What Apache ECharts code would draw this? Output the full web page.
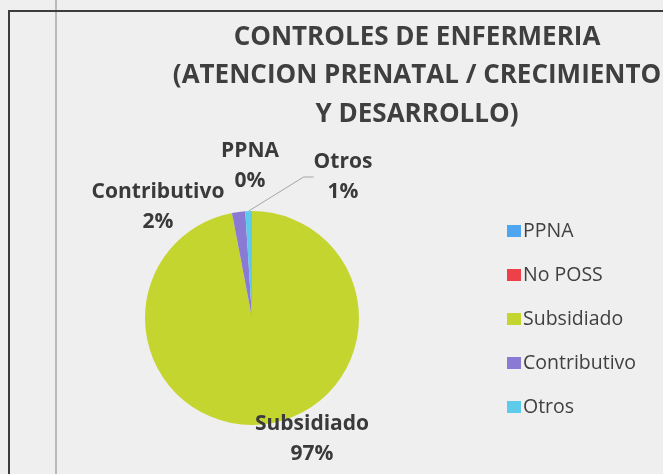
<!DOCTYPE html>
<html>
<head>
<meta charset="utf-8">
<script src="https://cdn.jsdelivr.net/npm/echarts@6/dist/echarts.min.js"></script>
<style>
  html, body { margin: 0; padding: 0; background: #efefef; }
  #chart { width: 663px; height: 474px; }
</style>
</head>
<body>
<div id="chart"></div>
<script>
// chart data
const categories = ['PPNA', 'No POSS', 'Subsidiado', 'Contributivo', 'Otros'];
const values = [0, 0, 97, 2, 1];
const colors = ['#4da6ef', '#ee4048', '#c5d52f', '#8b7ad4', '#5ecbea'];
const titleText = 'CONTROLES DE ENFERMERIA\n(ATENCION PRENATAL / CRECIMIENTO\nY DESARROLLO)';

// where Excel placed each data label (label centre), null = hidden
const labelSpots = [[250, 166], null, [312, 439], [158, 207], [343, 177]];

const chart = echarts.init(document.getElementById('chart'));

chart.setOption({
    backgroundColor: '#efefef',
    animation: false,
    title: {
        text: titleText,
        left: 412,
        top: 13,
        textAlign: 'center',
        textStyle: {
            fontFamily: 'Open Sans',
            fontSize: 26,
            fontWeight: 'bold',
            color: '#3f3f3f',
            lineHeight: 38.5
        }
    },
    legend: {
        orient: 'vertical',
        left: 502,
        top: 216,
        icon: 'rect',
        itemWidth: 14,
        itemHeight: 12,
        itemGap: 24,
        data: categories,
        textStyle: {
            fontFamily: 'Open Sans',
            fontSize: 19.5,
            color: '#404040',
            lineHeight: 18,
            padding: [0, 0, 0, -3]
        }
    },
    graphic: [
        {
            type: 'line',
            shape: { x1: 56, y1: 0, x2: 56, y2: 474 },
            style: { stroke: '#b9b9b9', lineWidth: 2 }
        },
        {
            type: 'polyline',
            shape: { points: [[9, 474], [9, 11], [663, 11]] },
            style: { stroke: '#3c3c3c', lineWidth: 2, fill: null }
        }
    ],
    series: [
        {
            type: 'pie',
            center: [252, 318],
            radius: 107,
            startAngle: 90,
            clockwise: true,
            stillShowZeroSum: true,
            data: categories.map((name, i) => ({
                name: name,
                value: values[i],
                itemStyle: { color: colors[i] },
                label: { show: labelSpots[i] !== null },
                labelLine: { show: name === 'Otros' }
            })),
            label: {
                position: 'outside',
                fontFamily: 'Open Sans',
                fontSize: 21,
                fontWeight: 'bold',
                color: '#3a3a3a',
                lineHeight: 30,
                align: 'center',
                overflow: 'none',
                formatter: p => p.name + '\n' + Math.round(p.percent) + '%'
            },
            labelLine: {
                length: 20,
                length2: 10,
                lineStyle: { color: '#a6a6a6', width: 1 }
            },
            labelLayout: function (params) {
                const spot = labelSpots[params.dataIndex];
                if (!spot) return {};
                return {
                    x: spot[0],
                    y: spot[1],
                    align: 'center',
                    verticalAlign: 'middle'
                };
            }
        }
    ]
});
</script>
</body>
</html>
